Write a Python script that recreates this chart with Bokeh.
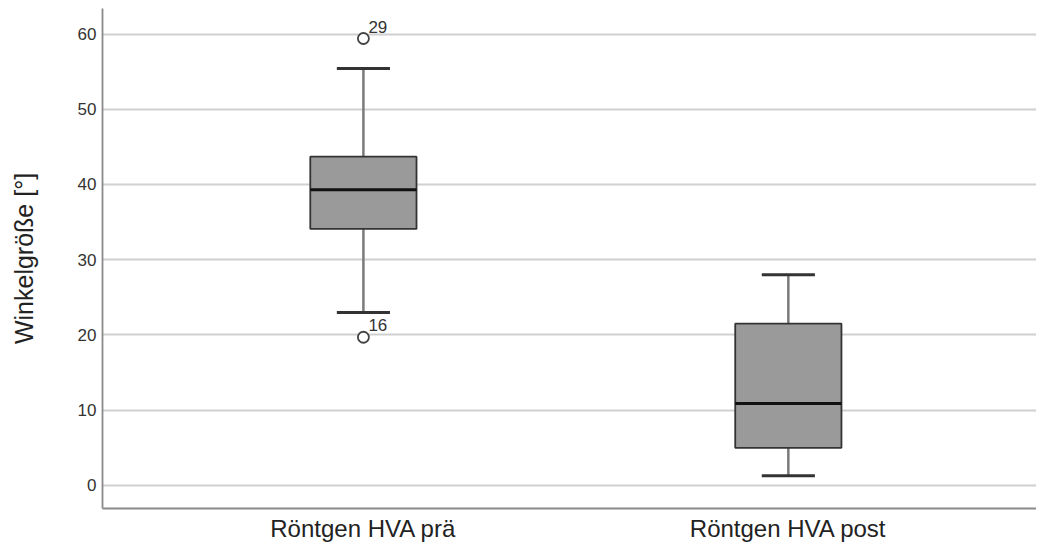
from bokeh.plotting import figure
from bokeh.models import FixedTicker, Range1d
from bokeh.embed import file_html
from bokeh.resources import INLINE
from bokeh.core.properties import value

categories = ["Röntgen HVA prä", "Röntgen HVA post"]
positions = [1, 2]
q1 = [34.1, 5.0]
median = [39.3, 10.9]
q3 = [43.7, 21.5]
whisk_lo = [23.0, 1.3]
whisk_hi = [55.4, 28.0]
outlier_x = [1, 1]
outlier_y = [59.4, 19.7]
outlier_labels = ["29", "16"]
y_ticks = [0, 10, 20, 30, 40, 50, 60]

box_w = 0.25
cap_w = 0.125

p = figure(width=1036, height=544, output_backend="svg", toolbar_location=None,
           x_range=Range1d(0.386, 2.584), y_range=Range1d(-3.06, 63.39),
           min_border_left=102, min_border_right=0, min_border_top=8, min_border_bottom=34)
p.outline_line_color = None
p.background_fill_color = "white"
p.border_fill_color = "white"

# grid
p.xgrid.grid_line_color = None
p.ygrid.grid_line_color = "#d0d0d0"
p.ygrid.grid_line_width = 1.8
p.yaxis.ticker = FixedTicker(ticks=y_ticks)
p.xaxis.ticker = FixedTicker(ticks=positions)
p.xaxis.major_label_overrides = {pos: c for pos, c in zip(positions, categories)}

for ax in (p.xaxis, p.yaxis):
    ax.axis_line_color = "#8a8a8a"
    ax.axis_line_width = 1.8
    ax.major_tick_line_color = None
    ax.minor_tick_line_color = None
    ax.major_tick_out = 0
    ax.major_tick_in = 0
    ax.minor_tick_out = 0
    ax.minor_tick_in = 0
    ax.major_label_text_font = "Liberation Sans"

p.yaxis.major_label_text_font_size = "17px"
p.yaxis.major_label_text_color = "#333333"
p.yaxis.major_label_standoff = 6
p.yaxis.axis_label = "Winkelgröße [°]"
p.yaxis.axis_label_text_font = "Liberation Sans"
p.yaxis.axis_label_text_font_style = "normal"
p.yaxis.axis_label_text_font_size = "25px"
p.yaxis.axis_label_text_color = "#222222"
p.yaxis.axis_label_standoff = 37

p.xaxis.major_label_text_font_size = "24px"
p.xaxis.major_label_text_color = "#222222"
p.xaxis.major_label_standoff = 6
p.xaxis.axis_label_standoff = 0

# whiskers
p.segment(x0=positions, y0=q3, x1=positions, y1=whisk_hi, line_color="#7a7a7a", line_width=2.5)
p.segment(x0=positions, y0=whisk_lo, x1=positions, y1=q1, line_color="#7a7a7a", line_width=2.5)
# caps
p.segment(x0=[x - cap_w / 2 for x in positions], y0=whisk_hi,
          x1=[x + cap_w / 2 for x in positions], y1=whisk_hi, line_color="#333333", line_width=3)
p.segment(x0=[x - cap_w / 2 for x in positions], y0=whisk_lo,
          x1=[x + cap_w / 2 for x in positions], y1=whisk_lo, line_color="#333333", line_width=3)
# boxes
p.vbar(x=positions, width=box_w, bottom=q1, top=q3, fill_color="#9a9a9a",
       line_color="#333333", line_width=1.8)
# medians
p.segment(x0=[x - box_w / 2 for x in positions], y0=median,
          x1=[x + box_w / 2 for x in positions], y1=median, line_color="#111111", line_width=3)
# outliers
p.scatter(x=outlier_x, y=outlier_y, size=11, marker="circle", fill_color="white",
          line_color="#444444", line_width=1.8)
p.text(x=outlier_x, y=outlier_y, text=outlier_labels, x_offset=5, y_offset=-12,
       text_baseline="alphabetic", text_font=value("Liberation Sans"), text_font_size="17px",
       text_color="#333333")

open("out.html", "w").write(file_html(p, INLINE))
